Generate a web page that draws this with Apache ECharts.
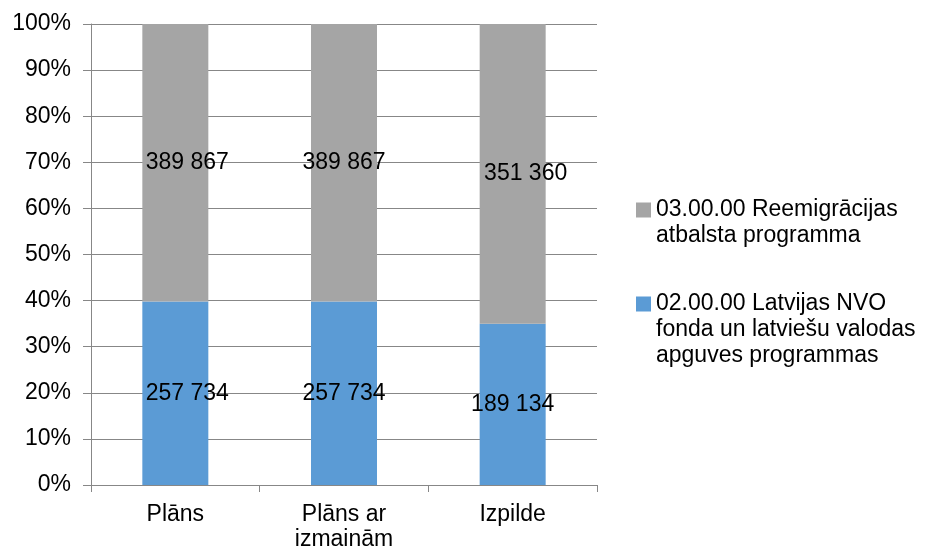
<!DOCTYPE html>
<html>
<head>
<meta charset="utf-8">
<script src="https://cdn.jsdelivr.net/npm/echarts@6/dist/echarts.min.js"></script>
<style>
  html, body { margin: 0; padding: 0; background: #ffffff; }
  #chart { width: 929px; height: 549px; }
</style>
</head>
<body>
<div id="chart"></div>
<script>
let categories = ["Plāns", "Plāns ar\nizmainām", "Izpilde"];
let ngoValues = [257734, 257734, 189134];
let remigValues = [389867, 389867, 351360];
let seriesNames = [
  "02.00.00 Latvijas NVO\nfonda un latviešu valodas\napguves programmas",
  "03.00.00 Reemigrācijas\natbalsta programma"
];

// label nudges as seen in the picture (px)
let ngoLabelShift = [12, 0, 0];
let remigLabelShift = [12, 0, 13];

let fontName = "Liberation Sans, Arial, sans-serif";
let lineH = 26;

function fmt(v) {
  return String(v).replace(/\B(?=(\d{3})+(?!\d))/g, " ");
}

/* convert values to percent of the column total */
function toPercent(values, shifts) {
  return values.map(function (v, i) {
    let total = ngoValues[i] + remigValues[i];
    return {
      value: v / total * 100,
      raw: v,
      label: { offset: [shifts[i], 0] }
    };
  });
}

/* one legend per item; blank lines on top so the square sits on the first text line */
function legendFor(name, iconCenter) {
  let lines = name.split("\n").length;
  let total = 2 * lines - 1;
  return {
    orient: "vertical",
    left: 636,
    top: iconCenter - total * lineH / 2,
    padding: 0,
    itemWidth: 15,
    itemHeight: 15,
    icon: "rect",
    data: [name],
    formatter: function (n) {
      return " \n".repeat(lines - 1) + n;
    },
    textStyle: {
      fontFamily: fontName,
      fontSize: 23,
      color: "#000000",
      lineHeight: lineH
    }
  };
}

let myChart = echarts.init(document.getElementById("chart"));
let labelStyle = {
  show: true,
  position: "inside",
  color: "#000000",
  fontFamily: fontName,
  fontSize: 23,
  formatter: function (p) {
    return fmt(p.data.raw);
  }
};
let option = {
  animation: false,
  backgroundColor: "#ffffff",
  textStyle: { fontFamily: fontName },
  grid: { left: 91, right: 332, top: 24, bottom: 64, outerBoundsMode: "none", containLabel: false },
  legend: [
    legendFor(seriesNames[1], 210),
    legendFor(seriesNames[0], 304)
  ],
  xAxis: {
    type: "category",
    data: categories,
    axisLine: { lineStyle: { color: "#878787" } },
    axisTick: { show: true, length: 7, lineStyle: { color: "#878787" } },
    axisLabel: {
      color: "#000000",
      fontFamily: fontName,
      fontSize: 23,
      lineHeight: 25,
      margin: 17
    }
  },
  yAxis: {
    type: "value",
    min: 0,
    max: 100,
    interval: 10,
    axisLine: { show: true, lineStyle: { color: "#878787" } },
    axisTick: { show: true, length: 8, lineStyle: { color: "#878787" } },
    splitLine: { lineStyle: { color: "#878787" } },
    axisLabel: {
      formatter: "{value}%",
      color: "#000000",
      fontFamily: fontName,
      fontSize: 23,
      margin: 20
    }
  },
  series: [
    {
      name: seriesNames[0],
      type: "bar",
      stack: "total",
      barWidth: 66,
      itemStyle: { color: "#5b9bd5" },
      label: labelStyle,
      data: toPercent(ngoValues, ngoLabelShift)
    },
    {
      name: seriesNames[1],
      type: "bar",
      stack: "total",
      barWidth: 66,
      itemStyle: { color: "#a5a5a5" },
      label: labelStyle,
      data: toPercent(remigValues, remigLabelShift)
    }
  ]
};
myChart.setOption(option);
</script>
</body>
</html>
